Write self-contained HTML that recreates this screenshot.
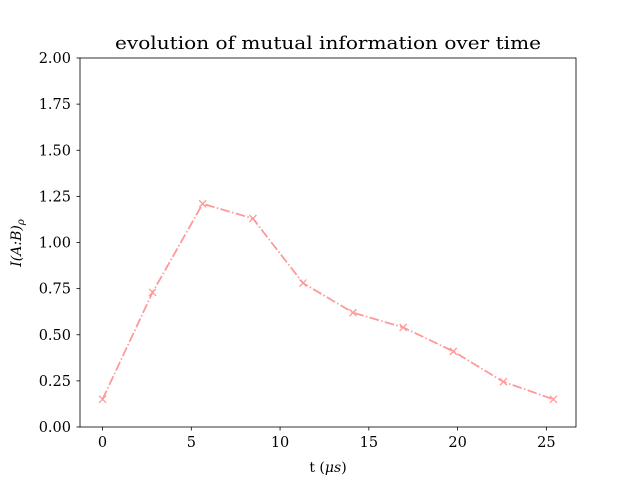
<!DOCTYPE html>
<html><head><meta charset="utf-8"><style>body{margin:0;background:#fff}svg{display:block;font-family:"DejaVu Serif","Liberation Serif",serif}</style></head>
<body>
<svg id="chart" width="640" height="480">
<rect width="640" height="480" fill="#fff"/>
<text x="115" y="49" font-size="18" textLength="426" lengthAdjust="spacingAndGlyphs">evolution of mutual information over time</text>
<g id="axes"></g>
<rect x="80" y="58" width="496" height="369" fill="none" stroke="#000" stroke-width="0.8"/>
<text x="328" y="472" font-size="14" text-anchor="middle">t (<tspan font-style="italic">μs</tspan>)</text>
<text transform="translate(21,243) rotate(-90)" font-size="14" text-anchor="middle" font-style="italic">I(A:B)<tspan font-size="10" dy="3">ρ</tspan></text>
</svg>
<script>
const xValues=[0,2.82,5.64,8.47,11.29,14.11,16.93,19.76,22.58,25.4];
const yValues=[0.15,0.73,1.21,1.13,0.78,0.62,0.54,0.41,0.245,0.15];
const xTicks=[0,5,10,15,20,25];
const yTicks=[0,0.25,0.5,0.75,1.0,1.25,1.5,1.75,2.0];
const ns="http://www.w3.org/2000/svg";
const g=document.getElementById('axes');
const xs=v=>80+(v+1.27)/(25.4+2.54)*496;
const ys=v=>427-v/2*369;
function mk(t,a){const e=document.createElementNS(ns,t);for(const k in a)e.setAttribute(k,a[k]);g.appendChild(e);return e;}
xTicks.forEach(v=>{
const l=mk('line',{x1:xs(v),x2:xs(v),y1:427,y2:430.5,stroke:'#000','stroke-width':0.8});


const t=mk('text',{x:xs(v),y:447,'font-size':14.5,'text-anchor':'middle'});t.textContent=v;


});
yTicks.forEach(v=>{
const l=mk('line',{x1:76.5,x2:80,y1:ys(v),y2:ys(v),stroke:'#000','stroke-width':0.8});


const t=mk('text',{x:71,y:ys(v)+5,'font-size':14.5,'text-anchor':'end'});t.textContent=v.toFixed(2);


});
const pl=mk('polyline',{points:xValues.map((x,i)=>xs(x)+','+ys(yValues[i])).join(' '),fill:'none',stroke:'#ff9999','stroke-width':1.8,'stroke-dasharray':'9.6,2.4,1.5,2.4'});


xValues.forEach((x,i)=>{
const cx=xs(x),cy=ys(yValues[i]);
const p=mk('path',{d:`M${cx-3.5},${cy-3.5}L${cx+3.5},${cy+3.5}M${cx-3.5},${cy+3.5}L${cx+3.5},${cy-3.5}`,stroke:'#ff9999','stroke-width':1.3,fill:'none'});


});
</script>
</body></html>
